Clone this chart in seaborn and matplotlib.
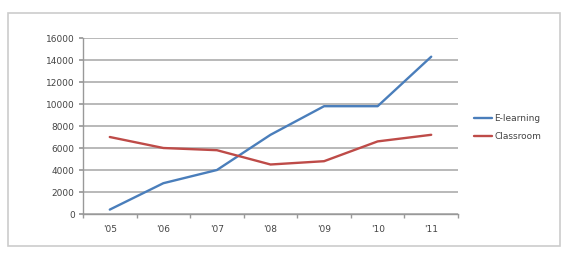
import numpy as np
import pandas as pd
import matplotlib
matplotlib.use("Agg")
import matplotlib.pyplot as plt
from matplotlib.patches import Rectangle
import seaborn as sns

years = ["'05", "'06", "'07", "'08", "'09", "'10", "'11"]
elearning = [400, 2800, 4000, 7200, 9800, 9800, 14300]
classroom = [7000, 6000, 5800, 4500, 4800, 6600, 7200]

df = pd.DataFrame({
    "pos": list(range(len(years))) * 2,
    "value": elearning + classroom,
    "series": ["E-learning"] * len(years) + ["Classroom"] * len(years),
})

sns.set_theme(style="white")
plt.rcParams["font.family"] = ["DejaVu Sans"]

fig = plt.figure(figsize=(5.74, 2.54), dpi=100)
ax = fig.add_axes([83 / 574, 40 / 254, 375 / 574, 176 / 254])

sns.lineplot(data=df, x="pos", y="value", hue="series",
             palette={"E-learning": "#4a7ebb", "Classroom": "#be4b48"},
             linewidth=1.7, ax=ax)

ax.set_xlim(-0.5, len(years) - 0.5)
ax.set_ylim(0, 16000)
ax.set_yticks(np.arange(0, 16001, 2000))
ax.set_yticklabels([str(v) for v in range(0, 16001, 2000)], fontsize=6.5, color="#444444")
ax.set_xticks(range(len(years)))
ax.set_xticklabels(years, fontsize=6.5, color="#444444")
ax.set_xticks(np.arange(-0.5, len(years), 1), minor=True)
ax.tick_params(axis="x", which="major", length=0, pad=8)
ax.tick_params(axis="x", which="minor", length=3, color="#999999", direction="out", bottom=True)
ax.tick_params(axis="y", length=3, color="#999999", direction="out", left=True, pad=3)
ax.yaxis.grid(True, color="#a6a6a6", linewidth=1.1)
ax.set_axisbelow(True)
for s in ["top", "right"]:
    ax.spines[s].set_visible(False)
for s in ["left", "bottom"]:
    ax.spines[s].set_color("#999999")
    ax.spines[s].set_linewidth(1)
ax.set_xlabel("")
ax.set_ylabel("")

leg = ax.legend(loc="center left", bbox_to_anchor=(1.02, 0.49), frameon=False,
                fontsize=6.5, handlelength=2.0, handletextpad=0.3, labelspacing=1.05)
for t in leg.get_texts():
    t.set_color("#444444")

fig.patches.append(Rectangle((8 / 574, 8 / 254), 552 / 574, 233 / 254,
                             transform=fig.transFigure, fill=False,
                             edgecolor="#cccccc", linewidth=1.2))

fig.savefig("out.png", dpi=100)
